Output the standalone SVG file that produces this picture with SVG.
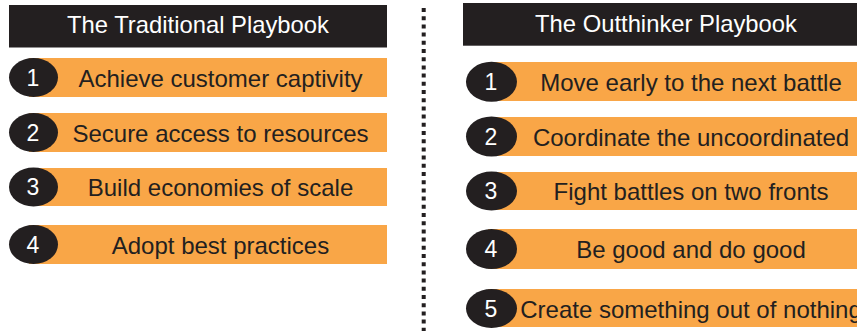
<svg xmlns="http://www.w3.org/2000/svg" width="857" height="331" viewBox="0 0 857 331">
<style>
.hdr{fill:#231F20}
.ttl{font-family:"Liberation Sans",Arial,sans-serif;font-size:23.8px;fill:#FFFFFF;text-anchor:middle}
.bar{fill:#F9A647}
.dot{fill:#231F20}
.num{font-family:"Liberation Sans",Arial,sans-serif;font-size:23px;fill:#FFFFFF;text-anchor:middle}
.lbl{font-family:"Liberation Sans",Arial,sans-serif;font-size:24px;fill:#231F20;text-anchor:middle}
.div{stroke:#231F20;stroke-width:4;stroke-dasharray:4 4.2;fill:none}
</style>
<rect width="857" height="331" fill="#FFFFFF"/>
<g id="divider"><line class="div" x1="423.7" y1="8" x2="423.7" y2="331"/></g>
<g id="left-header"><rect class="hdr" x="9" y="5" width="378" height="42.5"/><text class="ttl" x="198" y="33.3">The Traditional Playbook</text></g>
<g id="left-1"><rect class="bar" x="29" y="58" width="358" height="39"/><ellipse class="dot" cx="33.5" cy="77.5" rx="24.5" ry="19.5"/><text class="num" x="33" y="85.8">1</text><text class="lbl" x="220.5" y="86.7">Achieve customer captivity</text></g>
<g id="left-2"><rect class="bar" x="29" y="113" width="358" height="39"/><ellipse class="dot" cx="33.5" cy="132.5" rx="24.5" ry="19.5"/><text class="num" x="33" y="140.8">2</text><text class="lbl" x="220.5" y="141.5">Secure access to resources</text></g>
<g id="left-3"><rect class="bar" x="29" y="168" width="358" height="38"/><ellipse class="dot" cx="33.5" cy="187" rx="24.5" ry="19.5"/><text class="num" x="33" y="195.3">3</text><text class="lbl" x="220.5" y="196">Build economies of scale</text></g>
<g id="left-4"><rect class="bar" x="29" y="225" width="358" height="39"/><ellipse class="dot" cx="33.5" cy="244.5" rx="24.5" ry="19.5"/><text class="num" x="33" y="252.8">4</text><text class="lbl" x="220.5" y="253.5">Adopt best practices</text></g>
<g id="right-header"><rect class="hdr" x="463" y="3" width="394" height="42.7"/><text class="ttl" x="666" y="31.7">The Outthinker Playbook</text></g>
<g id="right-1"><rect class="bar" x="488" y="62" width="369" height="39"/><ellipse class="dot" cx="491.5" cy="81.8" rx="25.5" ry="20"/><text class="num" x="491" y="90.1">1</text><text class="lbl" x="691" y="90.7">Move early to the next battle</text></g>
<g id="right-2"><rect class="bar" x="488" y="117" width="369" height="39"/><ellipse class="dot" cx="491.5" cy="136.5" rx="25.5" ry="20"/><text class="num" x="491" y="144.8">2</text><text class="lbl" x="691" y="145.5">Coordinate the uncoordinated</text></g>
<g id="right-3"><rect class="bar" x="488" y="172" width="369" height="38"/><ellipse class="dot" cx="491.5" cy="191" rx="25.5" ry="19.5"/><text class="num" x="491" y="199.3">3</text><text class="lbl" x="691" y="200">Fight battles on two fronts</text></g>
<g id="right-4"><rect class="bar" x="488" y="229" width="369" height="40"/><ellipse class="dot" cx="491.5" cy="249" rx="25.5" ry="20"/><text class="num" x="491" y="257.3">4</text><text class="lbl" x="691" y="258">Be good and do good</text></g>
<g id="right-5"><rect class="bar" x="488" y="289" width="369" height="38"/><ellipse class="dot" cx="491.5" cy="308.5" rx="25.5" ry="19.5"/><text class="num" x="491" y="316.8">5</text><text class="lbl" x="691" y="317.5">Create something out of nothing</text></g>
</svg>
